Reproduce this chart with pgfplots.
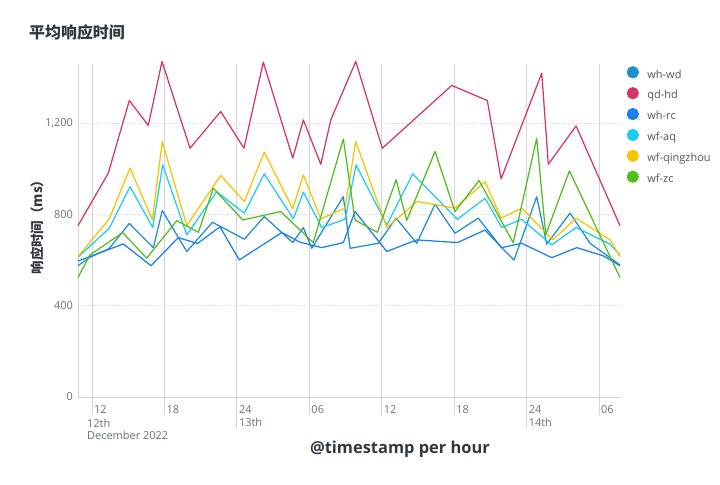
\documentclass[border=0pt]{standalone}
\usepackage{pgfplots}
\pgfplotsset{compat=1.18}
\usepackage{fontspec}
\setmainfont{Open Sans}
\newfontfamily\cjk{Noto Sans CJK SC}
\definecolor{cwd}{HTML}{1E8ECF}
\definecolor{chd}{HTML}{D4366A}
\definecolor{crc}{HTML}{1A7FF0}
\definecolor{caq}{HTML}{1CCCF2}
\definecolor{cqz}{HTML}{F8C300}
\definecolor{czc}{HTML}{52BE1E}
\definecolor{gridc}{HTML}{D3D5DA}
\definecolor{tickc}{HTML}{69707D}
\definecolor{titlec}{HTML}{343741}
\begin{document}
\begin{tikzpicture}[x=1bp,y=1bp]
\begin{axis}[
  name=ax, scale only axis,
  width=542bp, height=333bp,
  xmin=10.84, xmax=55.74, ymin=0, ymax=1458,
  clip=false,
  axis lines*=left,
  axis line style={draw=gridc, line width=0.8bp},
  xtick={12,18,24,30,36,42,48,54},
  xticklabels={12,18,{24\\13th},06,12,18,{24\\14th},06},
  ytick={0,400,800,1200},
  major tick length=0pt,
  tick style={draw=none},
  xmajorgrids, ymajorgrids,
  x grid style={draw=gridc, line width=0.9bp},
  y grid style={draw=gridc, line width=0.6bp, dotted},
  /pgf/number format/assume math mode=true,
  /pgf/number format/1000 sep={,},
  ticklabel style={font=\fontsize{11}{13}\selectfont, text=tickc},
  xticklabel style={anchor=north west, align=left, inner sep=0pt, xshift=2bp, yshift=-8bp},
  yticklabel style={anchor=east, inner sep=0pt, xshift=-5bp},
  legend style={at={(axis description cs:1.012,0.994)}, anchor=north west,
    draw=none, fill=none, inner sep=0pt, row sep=6.5bp,
    font=\fontsize{11}{12}\selectfont, text=titlec!85,
    nodes={inner sep=0pt, text height=8bp, text depth=2.5bp}},
  legend cell align=left,
  /tikz/every odd column/.append style={column sep=8.5bp},
  legend image code/.code={\fill[#1] (5.5bp,3bp) circle (5.5bp);},
  every axis plot/.append style={line width=1.25bp, line join=round},
]
\addplot[color=cwd] coordinates {(10.84,575)(11.83,612)(13.43,650)(15.09,760)(17.08,654)(17.82,816)(19.85,637)(21.98,765)(24.62,691)(26.27,790)(28.63,676)(29.51,742)(30.20,651)(32.82,877)(33.38,651)(35.72,673)(37.19,783)(38.90,673)(40.42,844)(42.07,717)(44.00,783)(45.89,656)(46.96,600)(48.84,877)(49.67,669)(51.60,805)(53.26,673)(55.74,578)};
\addlegendentry{wh-wd}
\addplot[color=chd] coordinates {(10.84,750)(13.35,980)(15.09,1298)(16.66,1189)(17.80,1469)(20.12,1089)(22.66,1250)(24.59,1089)(26.19,1466)(28.63,1046)(29.51,1213)(30.95,1019)(31.78,1213)(33.85,1469)(36.05,1089)(41.80,1364)(44.75,1298)(45.89,955)(49.26,1418)(49.80,1019)(52.10,1187)(55.74,750)};
\addlegendentry{qd-hd}
\addplot[color=crc] coordinates {(10.84,595)(11.83,615)(14.59,670)(16.89,575)(19.15,698)(20.74,672)(22.60,745)(24.20,600)(27.72,720)(29.23,678)(31.03,654)(32.82,676)(33.79,812)(36.42,637)(38.90,688)(42.27,676)(44.56,731)(45.94,654)(47.60,673)(50.09,610)(52.16,654)(54.36,618)(55.74,575)};
\addlegendentry{wh-rc}
\addplot[color=caq] coordinates {(10.84,612)(13.43,739)(15.15,921)(17.03,742)(17.86,1016)(19.85,710)(22.33,899)(24.62,805)(26.27,977)(28.68,780)(29.51,897)(31.03,742)(32.96,778)(33.88,1016)(36.42,753)(38.57,977)(42.27,778)(44.56,870)(45.94,742)(47.60,778)(50.09,666)(52.10,742)(54.92,669)(55.74,622)};
\addlegendentry{wf-aq}
\addplot[color=cqz] coordinates {(10.84,615)(13.43,780)(15.15,1002)(17.00,775)(17.82,1118)(19.85,750)(22.66,970)(24.62,856)(26.27,1072)(28.63,824)(29.51,973)(30.95,780)(32.96,827)(33.85,1118)(36.42,742)(38.95,856)(42.07,827)(44.56,943)(45.89,783)(47.60,827)(50.17,688)(52.10,783)(54.92,688)(55.74,615)};
\addlegendentry{wf-qingzhou}
\addplot[color=czc] coordinates {(10.84,523)(11.83,622)(14.54,720)(16.53,608)(19.02,772)(20.81,721)(22.05,914)(24.49,775)(27.63,812)(30.33,676)(32.82,1130)(33.79,775)(35.64,721)(37.19,951)(38.07,773)(40.42,1075)(42.07,812)(44.06,948)(46.90,675)(48.84,1133)(49.59,710)(51.55,990)(55.74,523)};
\addlegendentry{wf-zc}
\draw[gridc, line width=0.9bp] (axis cs:12,0) -- ++(0pt,-18bp);
\draw[gridc, line width=0.9bp] (axis cs:18,0) -- ++(0pt,-18bp);
\draw[gridc, line width=0.9bp] (axis cs:24,0) -- ++(0pt,-31bp);
\draw[gridc, line width=0.9bp] (axis cs:30,0) -- ++(0pt,-18bp);
\draw[gridc, line width=0.9bp] (axis cs:36,0) -- ++(0pt,-18bp);
\draw[gridc, line width=0.9bp] (axis cs:42,0) -- ++(0pt,-18bp);
\draw[gridc, line width=0.9bp] (axis cs:48,0) -- ++(0pt,-31bp);
\draw[gridc, line width=0.9bp] (axis cs:54,0) -- ++(0pt,-18bp);
\coordinate (AO) at (rel axis cs:0,0);
\end{axis}
\begin{scope}[shift={(AO)}, xshift=-78bp, yshift=-88bp]
\node[anchor=west,inner sep=0pt,text=titlec] at (29,453) {\cjk\bfseries\fontsize{16}{19}\selectfont 平均响应时间};
\node[anchor=north west, align=left, inner sep=0pt, text=tickc, font=\fontsize{11}{13}\selectfont] at (87,485-418.5) {12th\\December 2022};
\node[anchor=center, inner sep=0pt, text=titlec, font=\bfseries\fontsize{16.5}{18}\selectfont] at (400,485-449) {@timestamp per hour};
\node[anchor=center, rotate=90, inner sep=0pt, text=titlec] at (37,485-224) {\cjk\bfseries\fontsize{13.5}{15}\selectfont 响应时间（ms）};
\end{scope}
\pgfresetboundingbox
\path ([shift={(-78bp,-88bp)}]AO) rectangle ([shift={(642bp,397bp)}]AO);
\end{tikzpicture}
\end{document}
